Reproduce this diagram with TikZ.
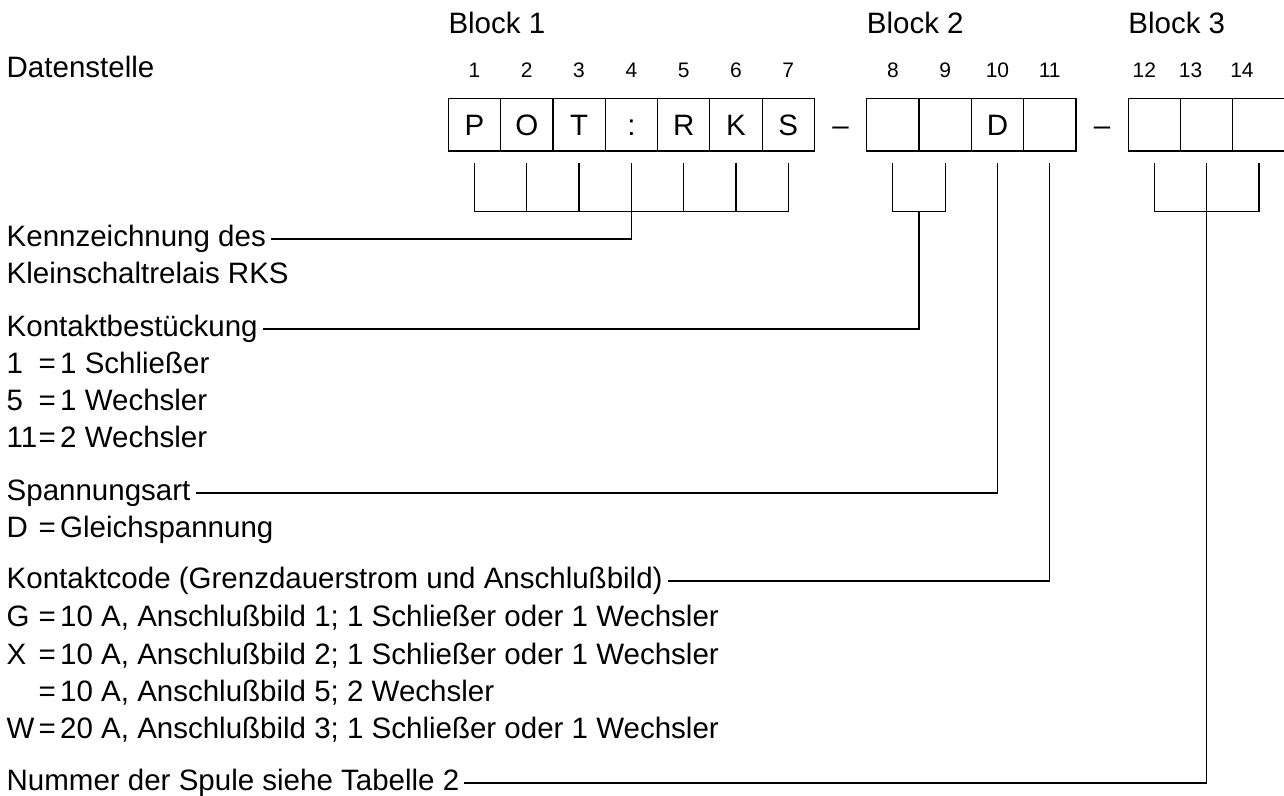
\documentclass[tikz,border=0pt]{standalone}
\usepackage{fontspec}
\setmainfont{Liberation Sans}
\usetikzlibrary{positioning, calc}

\tikzset{
  cell/.style={draw, line width=1.2pt, minimum width=52.3pt, minimum height=52.7pt,
    inner sep=0pt, outer sep=0pt, text height=21pt, text depth=0pt,
    font=\fontsize{29.5}{35}\selectfont},
  gapsign/.style={inner sep=0pt, text height=21pt, text depth=0pt,
    font=\fontsize{29.5}{35}\selectfont},
  digit/.style={anchor=base, inner sep=0pt, font=\fontsize{21}{25}\selectfont},
  blocklabel/.style={anchor=base west, inner sep=0pt, font=\fontsize{29.5}{35}\selectfont},
  legend/.style={anchor=base west, inner xsep=5pt, inner ysep=0pt, text height=14pt,
    text depth=0pt, font=\fontsize{29.5}{35}\selectfont},
  lead/.style={line width=1.2pt}
}
\newcommand{\legendrow}[2]{\makebox[32pt][l]{#1}\makebox[21.5pt][l]{=}#2}

\begin{document}
\begin{tikzpicture}[x=1pt, y=-1pt]
  \useasboundingbox (0,0) rectangle (1284,795);

  % --- Block 1 ---
  \node[cell] (c1) at (474.45,124.65) {P};
  \node[cell, right=0pt of c1] (c2) {O};
  \node[cell, right=0pt of c2] (c3) {T};
  \node[cell, right=0pt of c3] (c4) {:};
  \node[cell, right=0pt of c4] (c5) {R};
  \node[cell, right=0pt of c5] (c6) {K};
  \node[cell, right=0pt of c6] (c7) {S};
  % --- Block 2 ---
  \node[cell, right=52.3pt of c7] (c8) {};
  \node[cell, right=0pt of c8] (c9) {};
  \node[cell, right=0pt of c9] (c10) {D};
  \node[cell, right=0pt of c10] (c11) {};
  % --- Block 3 ---
  \node[cell, right=52.3pt of c11] (c12) {};
  \node[cell, right=0pt of c12] (c13) {};
  \node[cell, right=0pt of c13] (c14) {};
  % dashes between blocks
  \node[gapsign] (dash1) at ($(c7.east)!0.5!(c8.west)$) {--};
  \node[gapsign] (dash2) at ($(c11.east)!0.5!(c12.west)$) {--};

  % Block titles
  \node[blocklabel] (blk1) at ([yshift=65.3pt]c1.north west) {Block 1};
  \node[blocklabel] (blk2) at ([yshift=65.3pt]c8.north west) {Block 2};
  \node[blocklabel] (blk3) at ([yshift=65.3pt]c12.north west) {Block 3};

  % Digit positions
  \node[legend] (dst) at (1.5,77) {Datenstelle};
  \foreach \i in {1,...,11}
    \node[digit] (n\i) at ([yshift=20.6pt]c\i.north) {\i};
  \node[digit] (n12) at ([xshift=-10pt, yshift=20.6pt]c12.north) {12};
  \node[digit] (n13) at ([xshift=-16pt, yshift=20.6pt]c13.north) {13};
  \node[digit] (n14) at ([xshift=-17pt, yshift=20.6pt]c14.north) {14};

  % Legend
  \node[legend] (kenn) at (1.5,246) {Kennzeichnung des};
  \node[legend] (rks) at (1.5,283) {Kleinschaltrelais RKS};
  \node[legend] (bestueck) at (1.5,336) {Kontaktbestückung};
  \node[legend] (b1) at (1.5,373) {\legendrow{1}{1 Schließer}};
  \node[legend] (b5) at (1.5,410) {\legendrow{5}{1 Wechsler}};
  \node[legend] (b11) at (1.5,447) {\legendrow{11}{2 Wechsler}};
  \node[legend] (spann) at (1.5,500) {Spannungsart};
  \node[legend] (sd) at (1.5,537) {\legendrow{D}{Gleichspannung}};
  \node[legend] (code) at (1.5,588) {Kontaktcode (Grenzdauerstrom und Anschlußbild)};
  \node[legend] (cg) at (1.5,626) {\legendrow{G}{10 A, Anschlußbild 1; 1 Schließer oder 1 Wechsler}};
  \node[legend] (cx) at (1.5,664) {\legendrow{X}{10 A, Anschlußbild 2; 1 Schließer oder 1 Wechsler}};
  \node[legend] (cx5) at (1.5,701) {\legendrow{}{10 A, Anschlußbild 5; 2 Wechsler}};
  \node[legend] (cw) at (1.5,738) {\legendrow{W}{20 A, Anschlußbild 3; 1 Schließer oder 1 Wechsler}};
  \node[legend] (spule) at (1.5,790) {Nummer der Spule siehe Tabelle 2};

  % Tick points under the cells
  \foreach \i in {1,...,14} {
    \coordinate (t\i) at ([yshift=-11.7pt]c\i.south);
    \coordinate (u\i) at ([yshift=-60.7pt]c\i.south);
  }

  % Leaders
  \draw[lead] (t1) -- (u1) -- (u7) -- (t7);
  \foreach \i in {2,3,5,6} \draw[lead] (t\i) -- (u\i);
  \draw[lead] (kenn.east) -| (t4);
  \draw[lead] (t8) -- (u8) -- (u9) -- (t9);
  \draw[lead] (bestueck.east) -| ($(u8)!0.5!(u9)$);
  \draw[lead] (spann.east) -| (t10);
  \draw[lead] (code.east) -| (t11);
  \draw[lead] (t12) -- (u12) -- (u14) -- (t14);
  \draw[lead] (spule.east) -| (t13);
\end{tikzpicture}
\end{document}
